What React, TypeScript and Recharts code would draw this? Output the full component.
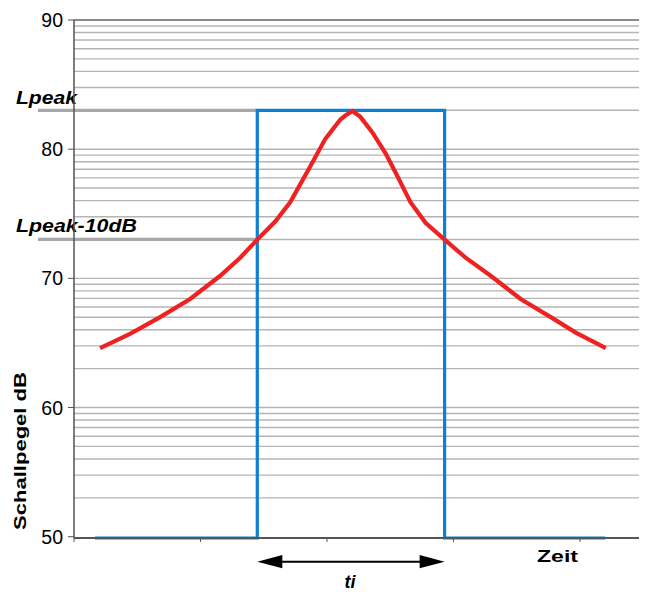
import { LineChart, Line, XAxis, YAxis, ReferenceLine } from "recharts";

// Schallpegel über Zeit – Impulsbewertung (ti)
const FONT = "Liberation Sans, Arial, Helvetica, sans-serif";

// red curve: time (axis units) / level dB
const CURVE_T = [0.206, 0.443, 0.681, 0.918, 1.156, 1.314, 1.449, 1.591, 1.71, 1.853, 1.987, 2.106, 2.146, 2.201, 2.264, 2.359, 2.462, 2.542, 2.66, 2.779, 2.93, 3.096, 3.294, 3.531, 3.769, 3.967, 4.204];
const CURVE_DB = [64.6, 65.7, 67.0, 68.4, 70.2, 71.6, 73.0, 74.4, 75.9, 78.4, 80.8, 82.3, 82.6, 82.95, 82.5, 81.3, 79.7, 78.2, 75.9, 74.3, 73.0, 71.6, 70.2, 68.4, 67.0, 65.8, 64.6];

// blue window
const STEP_T = [0.166, 1.449, 1.449, 2.93, 2.93, 4.2];
const STEP_DB = [49.9, 49.9, 83, 83, 49.9, 49.9];

const Y_TICKS = [50, 60, 70, 80, 90];
const X_TICKS = [0, 1, 2, 3, 4];
const DECADES = [50, 60, 70, 80];
const MINOR = [3.01, 4.77, 6.02, 6.99, 7.78, 8.45, 9.03, 9.54];

const LPEAK = 83.01;
const LPEAK_10 = 73.01;
const T_START = 1.449;
const T_END = 2.93;
const LABEL_T = -0.285;
const ARROW_DB = 48.07;

const curveData = CURVE_T.map((t, i) => ({ t, db: CURVE_DB[i] }));
const stepData = STEP_T.map((t, i) => ({ t, db: STEP_DB[i] }));
const gridValues = DECADES.flatMap((d) => [d, ...MINOR.map((m) => d + m)]).filter((v) => v !== 50);

function YTick({ x, y, payload }: any) {
  return (
    <text x={x} y={y} dy={7} textAnchor="end" fontSize={19.5} fontFamily={FONT} fill="#000">
      {payload.value}
    </text>
  );
}

function peakLabel(text: string, len: number, dy: number) {
  return ({ viewBox }: any) => (
    <text x={viewBox.x - 22} y={viewBox.y - dy} fontSize={18} fontWeight="bold" fontStyle="italic" fontFamily={FONT} textLength={len} lengthAdjust="spacingAndGlyphs" fill="#000">
      {text}
    </text>
  );
}

function Arrow({ x1, y1, x2 }: any) {
  const h = 6.7;
  const l = 25;
  return (
    <g>
      <line x1={x1 + l - 2} y1={y1} x2={x2 - l + 2} y2={y1} stroke="#000" strokeWidth={2} />
      <polygon points={`${x1},${y1} ${x1 + l},${y1 - h} ${x1 + l},${y1 + h}`} fill="#000" />
      <polygon points={`${x2},${y1} ${x2 - l},${y1 - h} ${x2 - l},${y1 + h}`} fill="#000" />
    </g>
  );
}

export default function App() {
  return (
    <LineChart width={639} height={584} margin={{ top: 12, right: 0, left: 0, bottom: 0 }}>
      {gridValues.map((v) => (
        <ReferenceLine key={v} y={v} stroke="#b4b4b4" strokeWidth={1.4} />
      ))}
      <ReferenceLine y={90} stroke="#8a8a8a" strokeWidth={2} />
      <XAxis
        type="number"
        dataKey="t"
        domain={[0, 4.53]}
        ticks={X_TICKS}
        allowDataOverflow
        height={54}
        tickFormatter={() => ""}
        tickSize={4}
        axisLine={{ stroke: "#555", strokeWidth: 2 }}
        tickLine={{ stroke: "#555" }}
        label={({ viewBox }: any) => (
          <text x={viewBox.x + 463} y={viewBox.y + 24} fontSize={17} fontWeight="bold" fontFamily={FONT} textLength={41} lengthAdjust="spacingAndGlyphs" fill="#000">
            Zeit
          </text>
        )}
      />
      <YAxis
        type="number"
        domain={[50, 90]}
        ticks={Y_TICKS}
        width={66}
        tickSize={6}
        tickMargin={5}
        tick={<YTick />}
        axisLine={{ stroke: "#555", strokeWidth: 1.5 }}
        tickLine={{ stroke: "#555" }}
        label={({ viewBox }: any) => {
          const cx = viewBox.x + 12;
          const cy = viewBox.y + viewBox.height - 87;
          return (
            <text x={cx} y={cy} transform={`rotate(-90 ${cx} ${cy})`} textAnchor="middle" dominantBaseline="central" fontSize={17} fontWeight="bold" fontFamily={FONT} textLength={158} lengthAdjust="spacingAndGlyphs" fill="#000">
              Schallpegel dB
            </text>
          );
        }}
      />
      <ReferenceLine
        segment={[{ x: LABEL_T, y: LPEAK }, { x: T_START, y: LPEAK }]}
        ifOverflow="visible"
        stroke="#a8a8a8"
        strokeWidth={3.3}
        label={peakLabel("Lpeak", 61, 6)}
      />
      <ReferenceLine
        segment={[{ x: LABEL_T, y: LPEAK_10 }, { x: T_START, y: LPEAK_10 }]}
        ifOverflow="visible"
        stroke="#a8a8a8"
        strokeWidth={3.3}
        label={peakLabel("Lpeak-10dB", 121, 7)}
      />
      <ReferenceLine
        segment={[{ x: T_START, y: ARROW_DB }, { x: T_END, y: ARROW_DB }]}
        ifOverflow="visible"
        shape={<Arrow />}
        label={({ viewBox }: any) => (
          <text x={viewBox.x + viewBox.width / 2 - 1} y={viewBox.y + 26} textAnchor="middle" fontSize={18} fontWeight="bold" fontStyle="italic" fontFamily={FONT} fill="#000">
            ti
          </text>
        )}
      />
      <Line data={stepData} dataKey="db" type="linear" stroke="#0d80d0" strokeWidth={3.2} dot={false} isAnimationActive={false} />
      <Line data={curveData} dataKey="db" type="linear" stroke="#ee2222" strokeWidth={4.2} dot={false} isAnimationActive={false} />
    </LineChart>
  );
}
